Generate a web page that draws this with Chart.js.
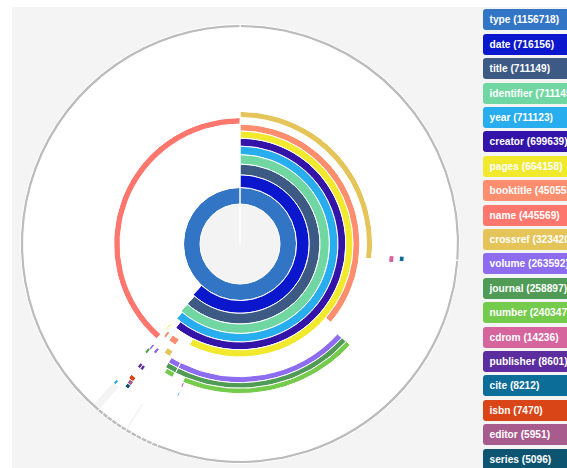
<!DOCTYPE html>
<html><head><meta charset="utf-8">
<script src="https://cdn.jsdelivr.net/npm/chart.js@4.4.0/dist/chart.umd.min.js"></script>
<style>
html,body{margin:0;padding:0;width:567px;height:468px;overflow:hidden;background:#fff;}
#bg{position:absolute;left:12px;top:7px;width:555px;height:461px;background:#f4f4f4;}
#wrap{position:absolute;left:9.5px;top:13.5px;width:460px;height:460px;}
#legend{position:absolute;left:482.5px;top:0;width:90px;height:468px;}
.item{position:absolute;left:0;width:110px;height:21px;border-radius:3px;color:#fff;font-family:"Liberation Sans",Arial,sans-serif;font-weight:bold;font-size:10.2px;line-height:21px;padding-left:7px;white-space:nowrap;box-sizing:border-box;}
</style></head><body>
<div id="bg"></div>
<div id="wrap"><canvas id="c" width="460" height="460"></canvas></div>
<div id="legend"></div>
<script>
// ---- legend data ----
const fieldNames = ['type','date','title','identifier','year','creator','pages','booktitle','name','crossref','volume','journal','number','cdrom','publisher','cite','isbn','editor','series'];
const fieldCounts = [1156718,716156,711149,711145,711123,699639,664158,450550,445569,323420,263592,258897,240347,14236,8601,8212,7470,5951,5096];

// ---- sunburst rings: [field, record count] from 12 o'clock clockwise; '' = empty ----
const root    = [['root',1156718]];
const level1  = [['type',1156718]];
const level2  = [['date',716156],['',440562]];
const level3  = [['title',711149],['',445569]];
const level4  = [['identifier',711141],['',445577]];
const level5  = [['year',708200],['',448518]];
const level6  = [['creator',698900],['',457818]];
const level7  = [['pages',663800],['',44660],['pages',2570],['',445688]];
const level8  = [['booktitle',420300],['',262500],['booktitle',12850],['',5800],['booktitle',4500],['',450768]];
const level9  = [['',711149],['name',445569]];
const level10 = [['crossref',310070],['',371110],['crossref',9640],['',465898]];
const level11 = [['',426380],['volume',237450],['volume',14780],['',19920],['volume',4500],['',4180],['volume',3210],['',446298]];
const level12 = [['',426060],['journal',237770],['journal',14780],['',29240],['journal',3860],['',445008]];
const level13 = [['',425740],['number',225240],['',13500],['number',11890],['',480348]];
const level14 = [['',303320],['cdrom',8350],['',336730],['cdrom',2570],['',505748]];
const level15 = [['',699200],['publisher',3850],['publisher',3850],['',449818]];
const level16 = [['',302990],['cite',6400],['',339650],['year',1930],['',505748]];
const level17 = [['',1156718]];
const level18 = [['',699815],['isbn',6400],['',450503]];
const level19 = [['',699200],['editor',5100],['',452418]];
const level20 = [['',699200],['series',4500],['',453018]];
const level21 = [['',711700],['year',3000],['',442018]];
const faint   = [['',678600],['faint',1600],['',27965],['faint',6400],['',442153]];
const rim     = [['rim',302990],['rim',347015],
  ['rim',4927],['rim',4927],['rim',4927],['rim',4927],['rim',4927],['rim',4927],
  ['rim',4767],['rim',4767],['rim',4767],['rim',4767],['rim',4767],['rim',4767],
  ['rim',448549]];

// ---- styles ----
const fieldColors = {
  type:'#3375c5', date:'#0a17cc', title:'#3d5a85', identifier:'#70d7a3', year:'#28adee',
  creator:'#3313a8', pages:'#f0e92e', booktitle:'#fe8e6e', name:'#fe776e', crossref:'#e5c55a',
  volume:'#8d6cf0', journal:'#509b55', number:'#75cb4c', cdrom:'#d6649d', publisher:'#5b2d9e',
  cite:'#0d6d99', isbn:'#da4518', editor:'#a85b8d', series:'#0d5471',
  root:'#f3f3f3', '':'#ffffff', faint:'#f4f4f4', rim:'#bcbcbc'
};

// legend
const lg = document.getElementById('legend');
fieldNames.forEach((n, i) => {
  const d = document.createElement('div');
  d.className = 'item';
  d.style.top = (9.3 + i * 24.4) + 'px';
  d.style.background = fieldColors[n];
  d.textContent = n + ' (' + fieldCounts[i] + ')';
  lg.appendChild(d);
});

// ring geometry (sqrt radial scale, 40px unit)
const levels = [root, level1, level2, level3, level4, level5, level6, level7, level8, level9, level10,
  level11, level12, level13, level14, level15, level16, level17, level18, level19, level20, level21];
const edge = k => 40 * Math.sqrt(k);
const rings = [];
levels.forEach((lv, k) => {
  const inner = k === 0 ? 0 : edge(k);
  const outer = edge(k + 1);
  rings.push({segs: lv, w: outer - inner, bw: 1});
});
const rimInner = 216.4, outerR = 219.6;
rings.push({segs: faint, w: rimInner - edge(levels.length), bw: 0});
rings.push({segs: rim, w: outerR - rimInner, bw: 1});

const datasets = rings.slice().reverse().map(r => ({
  data: r.segs.map(s => s[1]),
  backgroundColor: r.segs.map(s => fieldColors[s[0]]),
  borderColor: '#ffffff',
  borderWidth: r.bw,
  weight: r.w
}));

new Chart(document.getElementById('c'), {
  type: 'doughnut',
  data: { labels: datasets[0].data.map((_, i) => i), datasets },
  options: {
    responsive: false,
    animation: false,
    events: [],
    radius: outerR,
    cutout: 0,
    rotation: 0,
    circumference: 360,
    layout: { padding: 0 },
    plugins: { legend: { display: false }, tooltip: { enabled: false } }
  }
});
</script>
</body></html>
